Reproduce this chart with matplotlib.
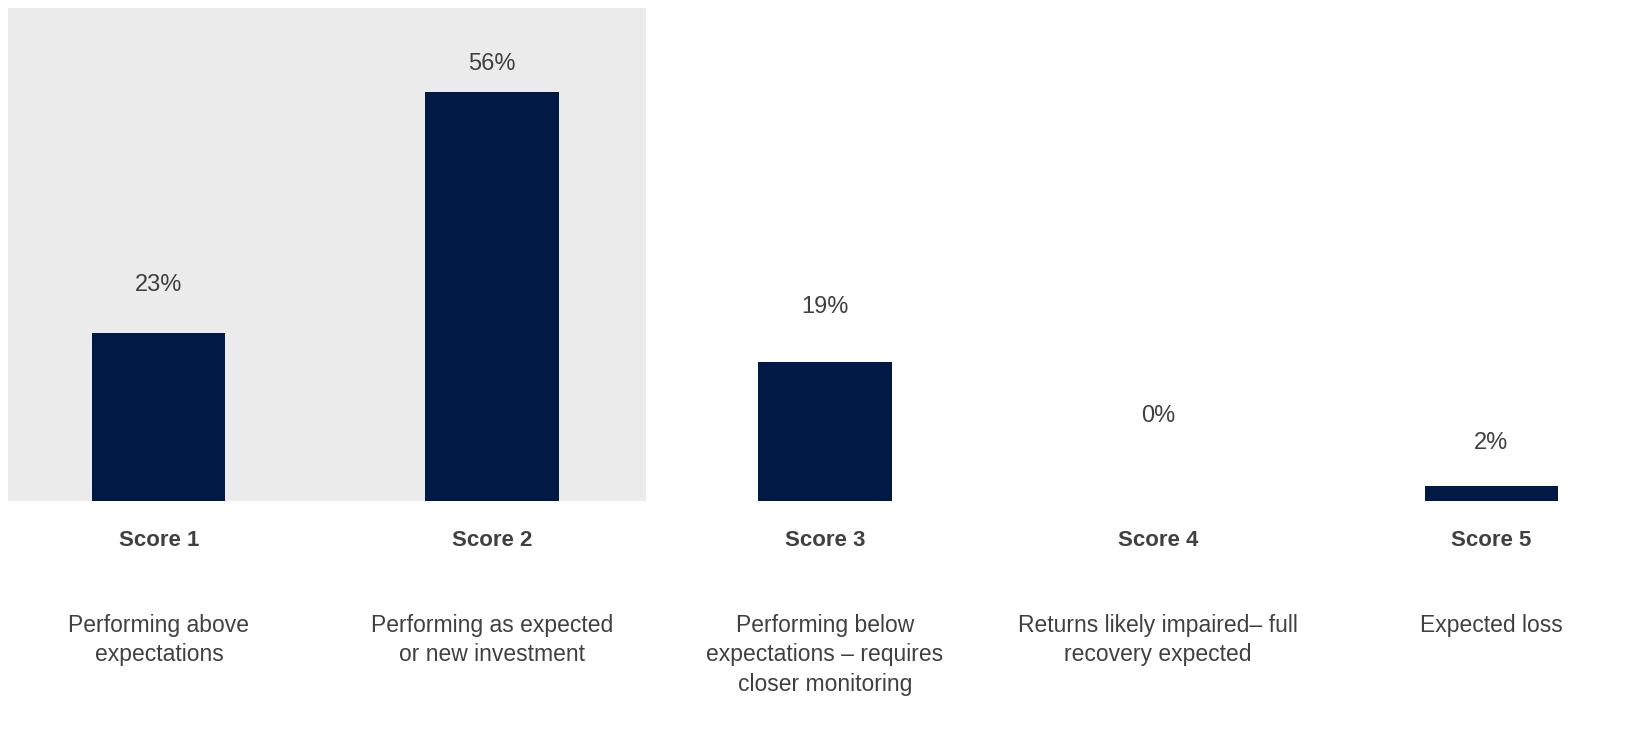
import matplotlib.pyplot as plt
from matplotlib.patches import Rectangle

plt.rcParams['font.family'] = ['Liberation Sans', 'DejaVu Sans']

# data
scores = ['Score 1', 'Score 2', 'Score 3', 'Score 4', 'Score 5']
values = [23, 56, 19, 0, 2]
descriptions = [
    'Performing above\nexpectations',
    'Performing as expected\nor new investment',
    'Performing below\nexpectations \u2013 requires\ncloser monitoring',
    'Returns likely impaired\u2013 full\nrecovery expected',
    'Expected loss',
]
# where each value label sits (data units, as in the original)
label_y = [29.6, 59.9, 26.6, 11.6, 8.0]

bar_color = '#001A45'
text_color = '#404040'

fig = plt.figure(figsize=(16.52, 7.31), dpi=100)
ax = fig.add_axes([0, 0.3146, 1, 0.6854])
x = list(range(len(scores)))

# grey panel behind first two scores
ax.add_patch(Rectangle((-0.453, -0.2), 1.915, 67.7, facecolor='#EBEBEB',
                       edgecolor='none', zorder=0))

ax.bar(x, values, width=0.4, color=bar_color, zorder=2)

for i in x:
    ax.text(i, label_y[i], f'{values[i]}%', ha='center', va='center',
            fontsize=17, color=text_color)

ax.set_xlim(-0.477, 4.483)
ax.set_ylim(0, 68.6)
ax.axis('off')

# labels under the chart, in figure coords
for i in x:
    fx = (159 + 333 * i) / 1652
    fig.text(fx, 1 - 541 / 731, scores[i], ha='center', va='center',
             fontsize=16, fontweight='bold', color=text_color)
    fig.text(fx, 1 - 614 / 731, descriptions[i], ha='center', va='top',
             fontsize=16.5, color=text_color, linespacing=1.36)

plt.savefig('out.png', dpi=100)
